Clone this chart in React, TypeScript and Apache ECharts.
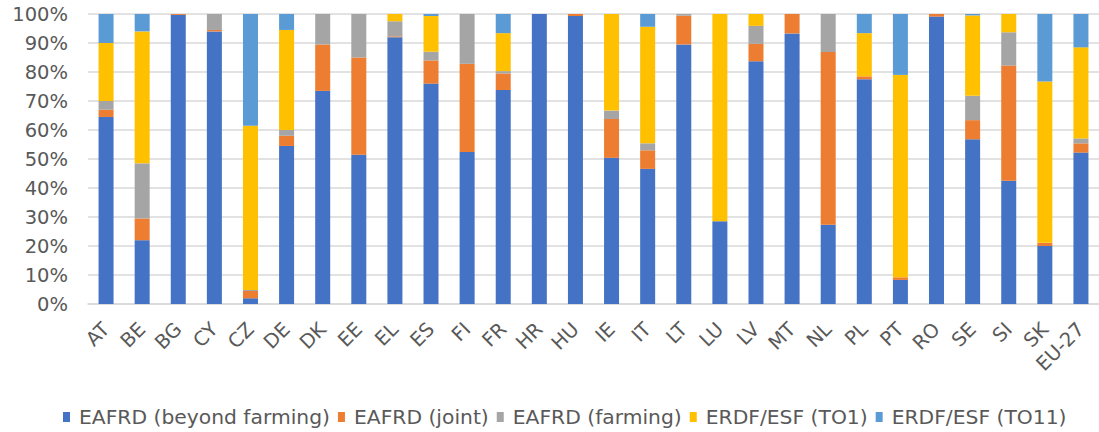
import React, { useEffect, useRef } from "react";
import * as echarts from "echarts";

const categories = ["AT","BE","BG","CY","CZ","DE","DK","EE","EL","ES","FI","FR","HR","HU","IE","IT","LT","LU","LV","MT","NL","PL","PT","RO","SE","SI","SK","EU-27"];
const beyondFarming = [64.5,22,99.7,94,2,54.5,73.5,51.5,92,76,52.4,73.8,100,99.3,50.4,46.6,89.5,28.5,83.7,93.3,27.3,77.5,8.3,99.1,56.8,42.5,20,52.2];
const joint = [2.5,7.5,0.3,0.5,2.5,3.5,16,33.5,0.3,8,30.4,5.7,0,0.7,13.4,6.4,9.9,0,6,6.7,59.6,1,0.9,0.9,6.6,39.7,1.1,3.2];
const farming = [3,19,0,5.5,0.3,2,10.5,15,5.2,3,17.2,0.8,0,0,2.9,2.4,0.6,0,6.2,0,13.1,0,0,0,8.4,11.5,0,1.7];
const to1 = [20,45.5,0,0,56.7,34.5,0,0,2.5,12.3,0,13.1,0,0,33.3,40.2,0,71.5,4.1,0,0,14.9,69.8,0,27.7,6.3,55.6,31.4];
const to11 = [10,6,0,0,38.5,5.5,0,0,0,0.7,0,6.6,0,0,0,4.4,0,0,0,0,0,6.6,21,0,0.5,0,23.3,11.5];
const yTicks = [0,10,20,30,40,50,60,70,80,90,100];

const seriesNames = ["EAFRD (beyond farming)","EAFRD (joint)","EAFRD (farming)","ERDF/ESF (TO1)","ERDF/ESF (TO11)"];
const colors = ["#4472C4","#ED7D31","#A5A5A5","#FFC000","#5B9BD5"];

export default function App() {
  const ref = useRef<HTMLDivElement>(null);
  useEffect(() => {
    if (!ref.current) return;
    const chart = echarts.init(ref.current, null, { renderer: "svg" });
    const font = "DejaVu Sans";
    const datas = [beyondFarming, joint, farming, to1, to11];
    chart.setOption({
      animation: false,
      color: colors,
      textStyle: { fontFamily: font },
      grid: { left: 88, top: 14, width: 1017, height: 290, containLabel: false },
      legend: {
        left: 58,
        top: 402,
        icon: "rect",
        itemWidth: 7,
        itemHeight: 10,
        itemGap: 8,
        textStyle: { fontFamily: font, fontSize: 20.3, color: "#595959", padding: [0, 0, 0, 4] },
        data: seriesNames,
      },
      xAxis: {
        type: "category",
        data: categories,
        axisLine: { show: true, lineStyle: { color: "#d9d9d9", width: 1.5 } },
        axisTick: { show: false },
        axisLabel: { rotate: 45, fontSize: 19.5, color: "#595959", margin: 22, fontFamily: font, interval: 0 },
      },
      yAxis: {
        type: "value",
        min: yTicks[0],
        max: yTicks[yTicks.length - 1],
        interval: 10,
        axisLine: { show: false },
        axisTick: { show: false },
        splitLine: { lineStyle: { color: "#d9d9d9", width: 1.5 } },
        axisLabel: { formatter: "{value}%", fontSize: 19.5, color: "#595959", margin: 20, fontFamily: font },
      },
      series: seriesNames.map((name, i) => ({
        name,
        type: "bar",
        stack: "total",
        barWidth: 15,
        data: datas[i],
        itemStyle: { color: colors[i] },
      })),
    });
    return () => chart.dispose();
  }, []);
  return (
    <div
      ref={ref}
      style={{ position: "absolute", left: 0, top: 0, width: 1099, height: 432, background: "#fff" }}
    />
  );
}
